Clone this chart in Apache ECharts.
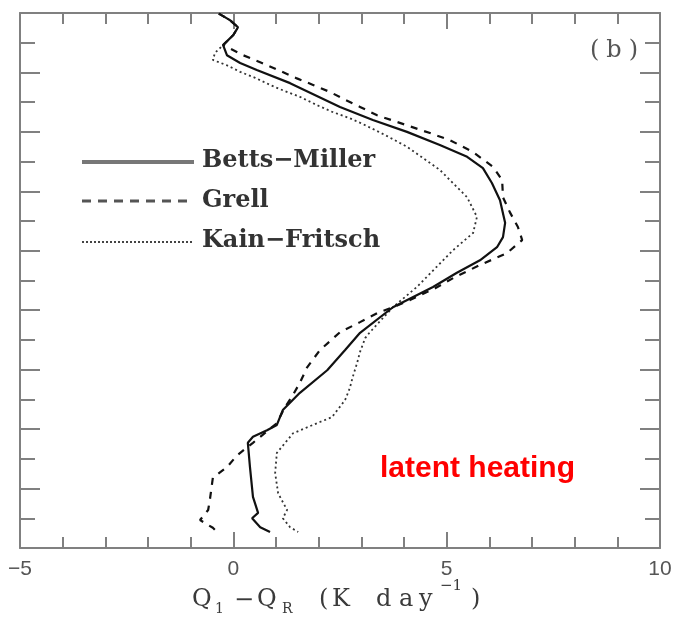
<!DOCTYPE html>
<html>
<head>
<meta charset="utf-8">
<script src="https://cdn.jsdelivr.net/npm/echarts@6/dist/echarts.min.js"></script>
<style>
  html, body { margin: 0; padding: 0; background: #ffffff; }
  #chart { width: 681px; height: 625px; }
</style>
</head>
<body>
<div id="chart"></div>
<script>
// Heating profiles Q1 - QR (K/day) against pressure (hPa) for three cumulus schemes

const bettsMillerP = [101, 112, 124, 137, 154, 171, 184, 196, 218, 258, 280, 300, 322, 342, 361, 386, 415, 453, 477, 494, 516, 537, 561, 595, 638, 667, 701, 739, 768, 793, 802, 813, 823, 864, 914, 941, 950, 965, 973];
const bettsMillerQ = [-0.34, -0.08, 0.11, 0.0, -0.24, -0.15, 0.16, 0.55, 1.33, 2.50, 3.27, 4.07, 4.84, 5.48, 5.85, 6.06, 6.25, 6.37, 6.32, 6.18, 5.78, 5.24, 4.68, 3.74, 2.97, 2.62, 2.20, 1.56, 1.16, 1.02, 0.79, 0.46, 0.34, 0.39, 0.46, 0.58, 0.44, 0.63, 0.86];

const grellP = [101, 112, 124, 137, 154, 171, 184, 196, 210, 221, 233, 246, 258, 272, 289, 302, 314, 334, 359, 381, 410, 435, 460, 482, 504, 524, 544, 563, 583, 595, 605, 620, 637, 667, 696, 722, 746, 763, 790, 823, 844, 864, 882, 919, 936, 953, 966, 973];
const grellQ = [-0.34, -0.08, 0.11, 0.0, -0.24, 0.23, 0.67, 1.05, 1.49, 1.87, 2.27, 2.62, 2.97, 3.37, 4.07, 4.61, 5.08, 5.62, 6.09, 6.30, 6.32, 6.48, 6.67, 6.77, 6.41, 5.78, 5.20, 4.73, 4.14, 3.74, 3.37, 2.97, 2.50, 2.03, 1.73, 1.56, 1.37, 1.21, 1.02, 0.46, 0.09, -0.15, -0.48, -0.55, -0.59, -0.78, -0.48, -0.38];

const kainFritschP = [101, 112, 124, 137, 154, 167, 179, 188, 199, 209, 221, 230, 241, 255, 267, 277, 287, 305, 325, 364, 410, 443, 470, 499, 561, 595, 637, 647, 670, 689, 712, 731, 751, 780, 788, 807, 840, 874, 908, 936, 950, 965, 973];
const kainFritschQ = [-0.34, -0.08, 0.11, 0.0, -0.24, -0.43, -0.48, -0.15, 0.16, 0.51, 0.86, 1.16, 1.56, 1.96, 2.34, 2.73, 3.04, 3.55, 4.07, 4.84, 5.48, 5.71, 5.62, 5.15, 4.30, 3.74, 3.20, 3.09, 2.97, 2.90, 2.80, 2.73, 2.62, 2.31, 2.03, 1.40, 1.02, 0.98, 1.05, 1.26, 1.16, 1.33, 1.52];

const xTickLabels = { '-5': '\u22125', '0': '0', '5': '5', '10': '10' };
const schemeNames = ['Betts\u2212Miller', 'Grell', 'Kain\u2212Fritsch'];

function pairs(q, p) {
  return q.map(function (v, i) { return [v, p[i]]; });
}

const frameColor = '#808080';

function xAxisDef(pos, showLabels) {
  return {
    type: 'value', position: pos, min: -5, max: 10, interval: 5,
    axisLine: { show: true, onZero: false, lineStyle: { color: frameColor, width: 2 } },
    axisTick: { show: true, inside: true, length: 16, lineStyle: { color: frameColor, width: 2 } },
    minorTick: { show: true, splitNumber: 5, length: 11, lineStyle: { color: frameColor, width: 2 } },
    splitLine: { show: false },
    axisLabel: {
      show: showLabels, margin: 11, color: '#555555', fontSize: 21,
      fontFamily: 'Liberation Sans',
      formatter: function (v) { return xTickLabels[String(v)] || ''; }
    }
  };
}

function yAxisDef(pos) {
  return {
    type: 'value', position: pos, min: 100, max: 1000, interval: 100, inverse: true,
    axisLine: { show: true, onZero: false, lineStyle: { color: frameColor, width: 2 } },
    axisTick: { show: true, inside: true, length: 20, lineStyle: { color: frameColor, width: 2 } },
    minorTick: { show: true, splitNumber: 2, length: 15, lineStyle: { color: frameColor, width: 2 } },
    splitLine: { show: false },
    axisLabel: { show: false }
  };
}

const serif = 'DejaVu Serif';
const titleColor = '#3a3a3a';

function txt(x, y, s, size, extra) {
  const style = Object.assign({
    text: s, x: x, y: y, fill: titleColor, fontSize: size, fontFamily: serif,
    align: 'left', verticalAlign: 'middle'
  }, extra || {});
  return { type: 'text', style: style, z: 10 };
}

const chart = echarts.init(document.getElementById('chart'), null, { renderer: 'canvas' });

chart.setOption({
  animation: false,
  backgroundColor: '#ffffff',
  grid: { left: 20, right: 21, top: 13, bottom: 77, containLabel: false },
  xAxis: [xAxisDef('bottom', true), xAxisDef('top', false)],
  yAxis: [yAxisDef('left'), yAxisDef('right')],
  series: [
    {
      name: schemeNames[0], type: 'line', xAxisIndex: 0, yAxisIndex: 0,
      data: pairs(bettsMillerQ, bettsMillerP), symbol: 'none',
      lineStyle: { color: '#111111', width: 2.2, type: 'solid' }, z: 4
    },
    {
      name: schemeNames[1], type: 'line', xAxisIndex: 0, yAxisIndex: 0,
      data: pairs(grellQ, grellP), symbol: 'none',
      lineStyle: { color: '#111111', width: 2.2, type: [7, 7] }, z: 3
    },
    {
      name: schemeNames[2], type: 'line', xAxisIndex: 0, yAxisIndex: 0,
      data: pairs(kainFritschQ, kainFritschP), symbol: 'none',
      lineStyle: { color: '#333333', width: 1.8, type: [2, 3] }, z: 2
    }
  ],
  graphic: [
    // key
    { type: 'line', shape: { x1: 82, y1: 162, x2: 194, y2: 162 }, style: { stroke: '#777777', lineWidth: 4 } },
    { type: 'line', shape: { x1: 82, y1: 201, x2: 194, y2: 201 }, style: { stroke: '#555555', lineWidth: 3, lineDash: [9, 7] } },
    { type: 'line', shape: { x1: 82, y1: 242, x2: 194, y2: 242 }, style: { stroke: '#444444', lineWidth: 2, lineDash: [2, 2] } },
    txt(202, 161, schemeNames[0], 24, { fontWeight: 'bold', fill: '#333333' }),
    txt(202, 201, schemeNames[1], 24, { fontWeight: 'bold', fill: '#333333' }),
    txt(202, 241, schemeNames[2], 24, { fontWeight: 'bold', fill: '#333333' }),
    // panel tag
    txt(590, 51, '(', 24, { fill: '#555555' }),
    txt(614, 51, 'b', 24, { fill: '#555555', align: 'center' }),
    txt(638, 51, ')', 24, { fill: '#555555', align: 'right' }),
    // annotation
    txt(380, 469, 'latent heating', 30, { fill: '#ff0000', fontWeight: 'bold', fontFamily: 'Liberation Sans' }),
    // x-axis title: Q1 - QR (K day^-1)
    txt(192, 600, 'Q', 24),
    txt(215, 609, '1', 14),
    txt(244, 601, '\u2212', 24, { align: 'center' }),
    txt(257, 600, 'Q', 24),
    txt(282, 609, 'R', 14),
    txt(319, 600, '(', 24),
    txt(332, 600, 'K', 24),
    txt(376, 600, 'd', 24),
    txt(399, 600, 'a', 24),
    txt(419, 600, 'y', 24),
    txt(440, 586, '\u22121', 15),
    txt(471, 600, ')', 24)
  ]
});
</script>
</body>
</html>
